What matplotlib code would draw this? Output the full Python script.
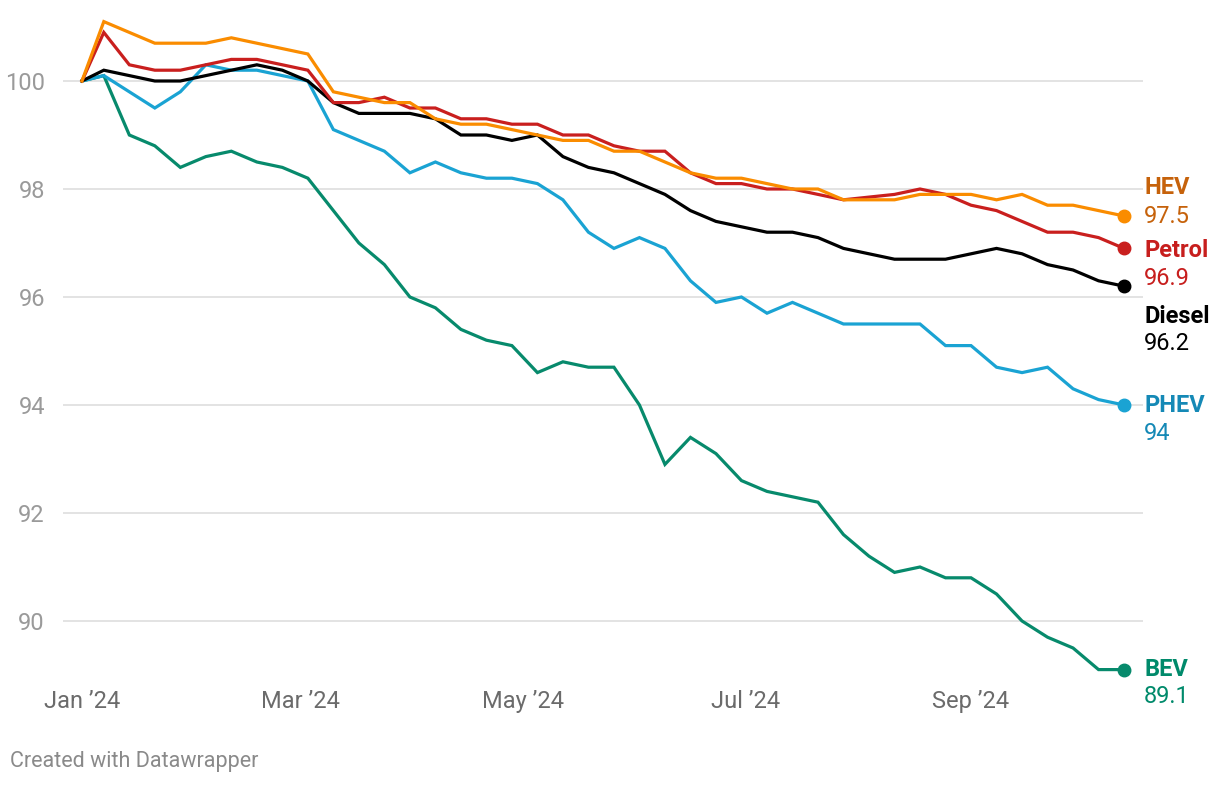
import matplotlib.pyplot as plt
import matplotlib.dates as mdates
import pandas as pd
import numpy as np

plt.rcParams["font.family"] = ["Roboto", "DejaVu Sans"]

# weekly index, Jan 1 2024 = 100
dates = [pd.Timestamp("2024-01-01")] + list(pd.date_range("2024-01-07", periods=41, freq="7D"))

hev = [100, 101.1, 100.9, 100.7, 100.7, 100.7, 100.8, 100.7, 100.6, 100.5,
       99.8, 99.7, 99.6, 99.6, 99.3, 99.2, 99.2, 99.1, 99.0, 98.9,
       98.9, 98.7, 98.7, 98.5, 98.3, 98.2, 98.2, 98.1, 98.0, 98.0,
       97.8, 97.8, 97.8, 97.9, 97.9, 97.9, 97.8, 97.9, 97.7, 97.7, 97.6, 97.5]
petrol = [100, 100.9, 100.3, 100.2, 100.2, 100.3, 100.4, 100.4, 100.3, 100.2,
          99.6, 99.6, 99.7, 99.5, 99.5, 99.3, 99.3, 99.2, 99.2, 99.0,
          99.0, 98.8, 98.7, 98.7, 98.3, 98.1, 98.1, 98.0, 98.0, 97.9,
          97.8, 97.85, 97.9, 98.0, 97.9, 97.7, 97.6, 97.4, 97.2, 97.2, 97.1, 96.9]
diesel = [100, 100.2, 100.1, 100.0, 100.0, 100.1, 100.2, 100.3, 100.2, 100.0,
          99.6, 99.4, 99.4, 99.4, 99.3, 99.0, 99.0, 98.9, 99.0, 98.6,
          98.4, 98.3, 98.1, 97.9, 97.6, 97.4, 97.3, 97.2, 97.2, 97.1,
          96.9, 96.8, 96.7, 96.7, 96.7, 96.8, 96.9, 96.8, 96.6, 96.5, 96.3, 96.2]
phev = [100, 100.1, 99.8, 99.5, 99.8, 100.3, 100.2, 100.2, 100.1, 100.0,
        99.1, 98.9, 98.7, 98.3, 98.5, 98.3, 98.2, 98.2, 98.1, 97.8,
        97.2, 96.9, 97.1, 96.9, 96.3, 95.9, 96.0, 95.7, 95.9, 95.7,
        95.5, 95.5, 95.5, 95.5, 95.1, 95.1, 94.7, 94.6, 94.7, 94.3, 94.1, 94.0]
bev = [100, 100.1, 99.0, 98.8, 98.4, 98.6, 98.7, 98.5, 98.4, 98.2,
       97.6, 97.0, 96.6, 96.0, 95.8, 95.4, 95.2, 95.1, 94.6, 94.8,
       94.7, 94.7, 94.0, 92.9, 93.4, 93.1, 92.6, 92.4, 92.3, 92.2,
       91.6, 91.2, 90.9, 91.0, 90.8, 90.8, 90.5, 90.0, 89.7, 89.5, 89.1, 89.1]

names = ["HEV", "Petrol", "Diesel", "PHEV", "BEV"]
series = [hev, petrol, diesel, phev, bev]
line_colors = ["#fa8c00", "#c91f1e", "#000000", "#1aa3d3", "#078a6c"]
text_colors = ["#c6620b", "#c71e1d", "#000000", "#1589b6", "#008a6b"]
# label offsets in pixels (name, value) relative to the end dot
label_dy = [(29, 0), (-2, -30), (-30, -57), (0, -28), (0, -27)]

yticks = [90, 92, 94, 96, 98, 100]
xticks = ["2024-01-01", "2024-03-01", "2024-05-01", "2024-07-01", "2024-09-01"]
xticklabels = ["Jan \u201924", "Mar \u201924", "May \u201924", "Jul \u201924", "Sep \u201924"]

fig = plt.figure(figsize=(12.2, 7.88), dpi=100)
ax = fig.add_axes([63 / 1220, 1 - 680 / 788, 1080 / 1220, 665 / 788])

# drawn back to front: BEV first, HEV on top
for i in reversed(range(len(names))):
    ax.plot(dates, series[i], color=line_colors[i], lw=2.3, solid_joinstyle="miter", zorder=3 + (5 - i))
    ax.plot(dates[-1], series[i][-1], "o", color=line_colors[i], ms=9, zorder=10)
    v = series[i][-1]
    ax.annotate(names[i], (dates[-1], v), xytext=(20, label_dy[i][0]), textcoords="offset pixels",
                ha="left", va="center", fontsize=17, fontweight="bold", color=text_colors[i],
                annotation_clip=False)
    ax.annotate(f"{v:g}", (dates[-1], v), xytext=(20, label_dy[i][1]), textcoords="offset pixels",
                ha="left", va="center", fontsize=17, color=text_colors[i], annotation_clip=False)

start = mdates.date2num(pd.Timestamp("2024-01-01"))
ax.set_xlim(start - 5.2, start + 291.2)
ax.set_ylim(100 - 599 / 54, 100 + 66 / 54)

ax.set_yticks(yticks)
ax.set_yticklabels([str(t) for t in yticks])
ax.set_xticks([mdates.date2num(pd.Timestamp(d)) for d in xticks])
ax.set_xticklabels(xticklabels)
ax.tick_params(axis="y", length=0, pad=13, labelsize=17, labelcolor="#9a9a9a")
ax.tick_params(axis="x", length=0, pad=7, labelsize=17, labelcolor="#6b6b6b")
ax.grid(axis="y", color="#e3e3e3", lw=1.4, zorder=0)
ax.set_axisbelow(True)
for s in ax.spines.values():
    s.set_visible(False)

fig.text(10 / 1220, 1 - 762 / 788, "Created with Datawrapper", fontsize=15.5, color="#8a8a8a",
         ha="left", va="center")

fig.savefig("out.png", dpi=100)
